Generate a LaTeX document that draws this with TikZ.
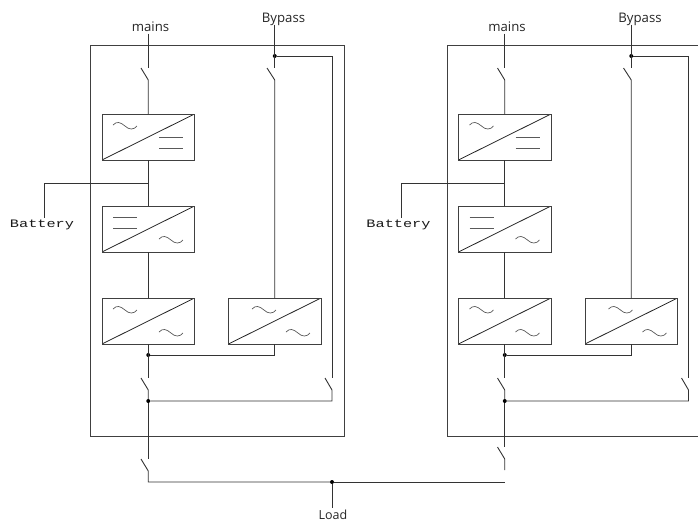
\documentclass[tikz,border=0pt]{standalone}
\usepackage{fontspec}
\setmainfont{Open Sans}
\newfontfamily\batfont{Liberation Mono}
\tikzset{
  wire/.style={draw=black!80,line width=0.9pt,line join=miter},
  conv/.style={draw=black!75,line width=1pt,rectangle,minimum width=92.5pt,minimum height=46pt,inner sep=0pt,outer sep=0pt,
    path picture={\draw[black!85,line width=0.8pt] (path picture bounding box.south west) -- (path picture bounding box.north east);}},
  lab/.style={inner sep=0pt,outer sep=0pt,text height=9pt,text depth=2pt,font=\fontsize{13.2}{15}\selectfont,text=black!85},
  batt/.style={inner sep=0pt,outer sep=0pt,font=\batfont\fontsize{12}{14}\selectfont,text=black!90},
  dot/.style={circle,fill=black,inner sep=0pt,minimum size=4pt,outer sep=0pt},
  sym/.style={draw=black!65,line width=0.7pt},
  frame/.style={draw=black!75,line width=0.9pt}
}
\newcommand{\tild}[2]{\draw[sym] (#1,#2+3) .. controls (#1+4,#2-1) and (#1+7,#2) .. (#1+12,#2+4) .. controls (#1+16,#2+8) and (#1+21,#2+8) .. (#1+24,#2+4);}
\newcommand{\dcl}[2]{\draw[sym] (#1,#2) -- (#1+24,#2); \draw[sym] (#1,#2+11.5) -- (#1+24,#2+11.5);}
% converters, wires and switches common to both panels; #1 is the name prefix
\newcommand{\panelbody}[1]{
  \node[conv] (#1c1) at (148.25,137) {};
  \node[conv] (#1c2) at (148.25,229) {};
  \node[conv] (#1c3) at (148.25,321) {};
  \node[conv] (#1c4) at (274.75,321) {};
  \tild{113}{122}\dcl{159}{137}
  \dcl{113}{217}\tild{159}{236}
  \tild{113}{306}\tild{159}{329}
  \tild{252}{306}\tild{286}{329}
  \coordinate (#1s1t) at (141,68);  \coordinate (#1s1b) at (148.25,80);
  \coordinate (#1s2t) at (267,68);  \coordinate (#1s2b) at (274.75,80);
  \coordinate (#1s3t) at (141,378); \coordinate (#1s3b) at (148.25,390);
  \coordinate (#1s4t) at (325,378); \coordinate (#1s4b) at (332,390);
  \node[dot] (#1jb) at (274.75,56) {};
  \node[dot] (#1jo) at (148.25,355) {};
  \node[dot] (#1jl) at (148.25,401) {};
  \coordinate (#1jbat) at (148.25,183);
  \node[lab] (#1mains) at (150.5,28) {mains};
  \node[lab] (#1bypass) at (283.5,19) {Bypass};
  \node[batt] (#1batt) at (42,224.5) {\scalebox{1.27}[0.95]{Battery}};
  \draw[wire] (#1mains.south -| #1s1b) -- (#1s1t -| #1s1b);
  \draw[wire] (#1s1t) -- (#1s1b) -- (#1c1.north);
  \draw[wire] (#1c1.south) -- (#1c2.north);
  \draw[wire] (#1jbat) -| (44.5,218);
  \draw[wire] (#1c2.south) -- (#1c3.north);
  \draw[wire] (#1c3.south) -- (#1s3t -| #1s3b);
  \draw[wire] (#1s3t) -- (#1s3b) -- (#1jl);
  \draw[wire] (#1jo) -| (#1c4.south);
  \draw[wire] (#1bypass.south -| #1s2b) -- (#1s2t -| #1s2b);
  \draw[wire] (#1s2t) -- (#1s2b) -- (#1c4.north);
  \draw[wire] (#1jb) -| (#1s4b |- #1s4t);
  \draw[wire] (#1s4t) -- (#1s4b) -- (#1s4b |- #1jl) -- (#1jl);
}
\begin{document}
\begin{tikzpicture}[x=1pt,y=-1pt]
\useasboundingbox (0,0) rectangle (698,520);
% left panel
\node[frame,rectangle,minimum width=253.5pt,minimum height=391pt,inner sep=0pt,outer sep=0pt] (fr1) at (217.25,240.5) {};
\panelbody{a}
\coordinate (as5t) at (141,459); \coordinate (as5b) at (148.25,471);
\node[dot] (jload) at (332,482) {};
\node[lab,text depth=0pt,font=\fontsize{12.5}{14}\selectfont] (load) at (333,514.5) {Load};
\draw[wire] (ajl) -- (as5t -| as5b);
\draw[wire] (as5t) -- (as5b) -- (148.25,482) -- (jload);
\draw[wire] (jload) -- (332,508);
% right panel
\begin{scope}[xshift=356.5pt]
\draw[frame] (342,45) -- (90.5,45) -- (90.5,436) -- (342,436);
\panelbody{b}
\coordinate (bs5t) at (141,447); \coordinate (bs5b) at (148.25,459);
\coordinate (bend) at (148.25,470);
\draw[wire] (bjl) -- (bs5t -| bs5b);
\draw[wire] (bs5t) -- (bs5b) -- (bend);
\coordinate (bload) at (148.25,482);
\end{scope}
\draw[wire] (jload) -- (bload);
\end{tikzpicture}
\end{document}
